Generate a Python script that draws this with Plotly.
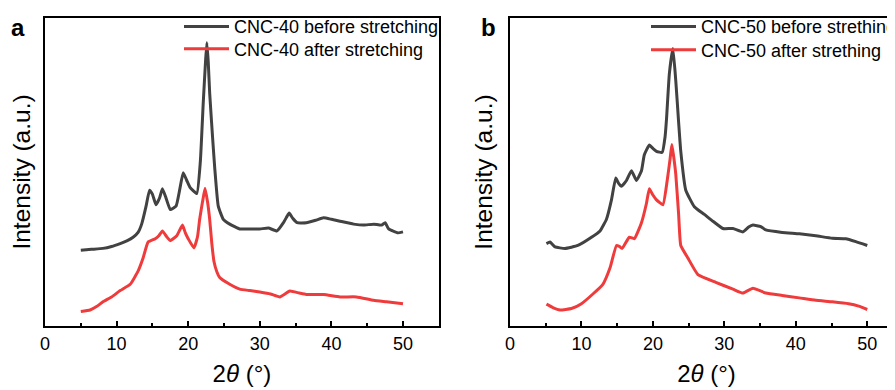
import plotly.graph_objects as go

# ---- Data (2θ in degrees, intensity in arbitrary units) ----
a_before_x = [5.0, 6.5, 8.1, 9.3, 10.5, 11.5, 12.3, 13.0, 13.5, 14.1, 14.6, 15.0, 15.5, 16.0, 16.4,
              16.9, 17.5, 18.3, 18.8, 19.3, 19.8, 20.25, 21.2, 21.7, 22.1, 22.4, 22.6, 22.8, 23.0,
              23.4, 23.7, 24.2, 24.9, 25.8, 27.2, 28.6, 30.0, 31.2, 32.4, 33.3, 33.8, 34.1, 34.6,
              35.2, 36.5, 37.8, 38.9, 40.0, 41.2, 43.1, 44.5, 45.9, 47.0, 47.5, 48.0, 49.3, 50.0]
a_before_y = [78, 79, 80, 82, 85, 88, 91.5, 96.5, 105, 123, 140, 136, 125, 132, 141.5,
              132, 120, 123.5, 140, 158, 150, 143, 136.5, 170, 230, 270, 292, 272, 240,
              195, 163.5, 123.5, 110, 105, 100, 100, 100, 101, 98, 106.5, 113, 116.5, 111,
              106.5, 106.5, 109, 111.5, 110, 108, 105, 104, 105, 104, 106.5, 100, 96, 97]

a_after_x = [5.0, 6.3, 7.2, 8.1, 9.3, 10.5, 11.9, 13.0, 13.7, 14.4, 15.4, 15.9, 16.4, 17.0, 17.5,
             18.4, 19.2, 19.6, 20.0, 20.8, 21.3, 21.6, 22.0, 22.35, 22.7, 23.0, 23.3, 23.6, 24.0,
             24.4, 25.8, 27.2, 28.6, 30.0, 31.5, 32.8, 34.2, 35.5, 36.5, 38.9, 41.2, 43.5, 45.9,
             47.7, 50.0]
a_after_y = [15, 16.5, 20, 25, 30, 36.5, 43, 56.5, 70, 86.5, 90, 93, 98, 92, 88,
             93, 104, 96, 90, 80.5, 92, 110, 128, 142, 128, 110, 85, 66.5, 56,
             50, 43, 38, 36.5, 35, 33, 30, 36, 34, 32.5, 32.5, 30, 30, 26.5,
             25, 23]

b_before_x = [5.1, 5.6, 6.3, 7.7, 9.5, 11.4, 12.6, 13.5, 14.2, 14.8, 15.2, 15.6, 16.3, 17.0, 17.7,
              18.4, 18.8, 19.5, 20.0, 20.5, 21.3, 21.7, 21.9, 22.3, 22.8, 23.2, 23.6, 23.9, 24.6,
              25.8, 27.2, 28.4, 29.8, 31.2, 32.6, 33.4, 34.0, 35.1, 35.8, 38.1, 40.5, 42.8, 45.1,
              47.0, 48.4, 50.0]
b_before_y = [85, 86.5, 81.5, 80, 83, 91.5, 98, 110, 130, 152.5, 147, 144, 150, 160, 150,
              160, 176.5, 186.5, 183, 180, 179, 195, 213, 260, 286, 253, 210, 180, 140,
              123, 115, 108, 100.5, 100.5, 97, 102, 104, 102.5, 99, 96.5, 95, 93, 90.5,
              90, 87, 83]

b_after_x = [5.1, 6.0, 7.0, 8.6, 10.0, 11.6, 13.0, 14.0, 14.9, 15.3, 15.7, 16.7, 17.4, 18.4, 19.1,
             19.5, 20.0, 20.5, 21.4, 22.0, 22.4, 22.65, 22.9, 23.2, 23.6, 23.9, 24.9, 26.3, 28.8,
             31.2, 32.6, 34.0, 35.8, 38.1, 40.5, 42.8, 45.1, 47.4, 48.8, 50.0]
b_after_y = [22.5, 19, 16.5, 18, 23, 33, 43, 60, 83, 82, 80, 91.5, 90, 106.5, 126.5,
             141.5, 135, 130, 125, 150, 172, 187, 175, 156.5, 115, 83, 70, 53, 45,
             38, 34, 39, 34, 31.5, 29, 26.5, 25, 23, 20.5, 17]

names_a = ["CNC-40 before stretching", "CNC-40 after stretching"]
names_b = ["CNC-50 before strething", "CNC-50 after strething"]
x_ticks = [0, 10, 20, 30, 40, 50]

BLACK = "#424242"
RED = "#EF3B3B"
FONT = "Liberation Sans, Arial, sans-serif"

W, H = 895, 390
MT, MB = 1, 71.5
plot_h = H - MT - MB

fig = go.Figure()
line_kw = dict(width=3, shape="spline", smoothing=0.4)
series = [
    (a_before_x, a_before_y, names_a[0], BLACK, "x", "y", "legend"),
    (a_after_x, a_after_y, names_a[1], RED, "x", "y", "legend2"),
    (b_before_x, b_before_y, names_b[0], BLACK, "x2", "y2", "legend3"),
    (b_after_x, b_after_y, names_b[1], RED, "x2", "y2", "legend4"),
]
for xs, ys, nm, col, xa, ya, lg in series:
    fig.add_trace(go.Scatter(x=xs, y=ys, mode="lines", name=nm, showlegend=True,
                             line=dict(line_kw, color=col), xaxis=xa, yaxis=ya, legend=lg))

xcommon = dict(
    tickmode="array", tickvals=x_ticks, ticks="inside", ticklen=5, tickwidth=1.5,
    tickcolor="black", showline=True, linecolor="black", linewidth=2,
    showgrid=False, zeroline=False, automargin=False, range=[0, 55],
    tickfont=dict(family=FONT, size=18, color="black"),
    minor=dict(dtick=5, tick0=0, ticks="inside", ticklen=3, tickwidth=1.5, tickcolor="black", showgrid=False),
    title=dict(text="2<i>θ</i> (°)", font=dict(family=FONT, size=24, color="black"), standoff=13),
)
ycommon = dict(
    range=[0, plot_h], showticklabels=False, ticks="", showgrid=False, zeroline=False,
    showline=True, linecolor="black", linewidth=2, automargin=False, mirror=True,
    title=dict(text="Intensity (a.u.)", font=dict(family=FONT, size=24.5, color="black"), standoff=8),
)

def legend_at(px_left, py_center):
    return dict(x=px_left / W, y=(H - MB - py_center) / plot_h, xanchor="left", yanchor="middle",
                bgcolor="rgba(0,0,0,0)", itemwidth=45, borderwidth=0,
                font=dict(family=FONT, size=18, color="black"))

fig.update_layout(
    width=W, height=H,
    showlegend=True,
    margin=dict(l=0, r=0, t=MT, b=MB),
    paper_bgcolor="white", plot_bgcolor="white",
    font=dict(family=FONT, color="black"),
    xaxis=dict(xcommon, domain=[37 / W, 430.8 / W], mirror=True, anchor="y"),
    yaxis=dict(ycommon, domain=[0, 1], anchor="x"),
    xaxis2=dict(xcommon, domain=[502 / W, 1.0], mirror=True, anchor="y2"),
    yaxis2=dict(ycommon, domain=[0, 1], anchor="x2"),
    legend=legend_at(171, 10),
    legend2=legend_at(171, 33),
    legend3=legend_at(638, 10),
    legend4=legend_at(638, 34),
)
for letter, px in (("a", 10), ("b", 480)):
    fig.add_annotation(text=f"<b>{letter}</b>", x=px / W, y=(H - MB - 11) / plot_h,
                       xref="paper", yref="paper", showarrow=False,
                       font=dict(family=FONT, size=24, color="black"),
                       xanchor="center", yanchor="middle")

fig.write_html("out.html")
